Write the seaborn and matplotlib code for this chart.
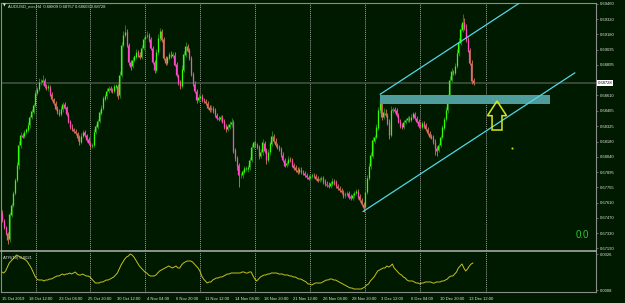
import numpy as np
import pandas as pd
import matplotlib
matplotlib.use("Agg")
import matplotlib.pyplot as plt
import matplotlib.transforms as mtransforms
from matplotlib.patches import Rectangle, Polygon
import seaborn as sns

# ---------------- data ----------------
symbol_title = "AUDUSD_ecn,H4  0.68809 0.68757 0.68603 0.68728"
atr_title = "ATR(10) 0.0021"
current_price = 0.68728
current_price_label = "0.68728"
first_open = 0.6752

closes = [
    0.6745, 0.6739, 0.6733, 0.6727, 0.6750, 0.6759, 0.6770, 0.6782, 0.6796, 0.6815,
    0.6824, 0.6823, 0.6827, 0.6829, 0.6833, 0.6841, 0.6846, 0.6852, 0.6863, 0.6867,
    0.6873, 0.6873, 0.6875, 0.6870, 0.6868, 0.6869, 0.6862, 0.6858, 0.6854, 0.6849,
    0.6846, 0.6844, 0.6848, 0.6853, 0.6850, 0.6844, 0.6837, 0.6832, 0.6830, 0.6828,
    0.6826, 0.6822, 0.6818, 0.6823, 0.6827, 0.6824, 0.6820, 0.6817, 0.6814, 0.6815,
    0.6827, 0.6832, 0.6837, 0.6845, 0.6849, 0.6858, 0.6860, 0.6865, 0.6868, 0.6866,
    0.6865, 0.6869, 0.6870, 0.6861, 0.6880, 0.6908, 0.6917, 0.6920, 0.6908, 0.6892,
    0.6888, 0.6894, 0.6897, 0.6901, 0.6899, 0.6897, 0.6905, 0.6913, 0.6916, 0.6917,
    0.6913, 0.6905, 0.6892, 0.6885, 0.6901, 0.6914, 0.6921, 0.6913, 0.6896, 0.6891,
    0.6896, 0.6899, 0.6898, 0.6899, 0.6890, 0.6880, 0.6873, 0.6870, 0.6885, 0.6899,
    0.6907, 0.6903, 0.6896, 0.6881, 0.6872, 0.6865, 0.6857, 0.6859, 0.6860, 0.6857,
    0.6856, 0.6854, 0.6850, 0.6848, 0.6849, 0.6847, 0.6843, 0.6840, 0.6839, 0.6841,
    0.6837, 0.6832, 0.6830, 0.6832, 0.6834, 0.6836, 0.6810, 0.6803, 0.6796, 0.6787,
    0.6787, 0.6790, 0.6793, 0.6793, 0.6794, 0.6801, 0.6813, 0.6817, 0.6815, 0.6813,
    0.6805, 0.6808, 0.6817, 0.6810, 0.6801, 0.6808, 0.6816, 0.6823, 0.6819, 0.6815,
    0.6813, 0.6811, 0.6806, 0.6801, 0.6796, 0.6798, 0.6802, 0.6801, 0.6796, 0.6794,
    0.6792, 0.6790, 0.6792, 0.6790, 0.6789, 0.6787, 0.6785, 0.6784, 0.6786, 0.6787,
    0.6786, 0.6784, 0.6782, 0.6783, 0.6784, 0.6781, 0.6779, 0.6778, 0.6777, 0.6779,
    0.6781, 0.6780, 0.6777, 0.6775, 0.6773, 0.6771, 0.6768, 0.6769, 0.6770, 0.6767,
    0.6766, 0.6768, 0.6770, 0.6772, 0.6767, 0.6764, 0.6760, 0.6757, 0.6771, 0.6784,
    0.6795, 0.6805, 0.6819, 0.6822, 0.6831, 0.6847, 0.6857, 0.6841, 0.6845, 0.6843,
    0.6836, 0.6824, 0.6847, 0.6848, 0.6847, 0.6843, 0.6837, 0.6833, 0.6832, 0.6836,
    0.6838, 0.6840, 0.6838, 0.6841, 0.6844, 0.6840, 0.6837, 0.6833, 0.6832, 0.6835,
    0.6833, 0.6830, 0.6826, 0.6823, 0.6822, 0.6818, 0.6812, 0.6810, 0.6815, 0.6822,
    0.6831, 0.6839, 0.6847, 0.6859, 0.6875, 0.6883, 0.6882, 0.6888, 0.6900, 0.6910,
    0.6922, 0.6929, 0.6924, 0.6913, 0.6903, 0.6891, 0.6875, 0.68728,
]

# wick lengths beyond the body, in pips (0.0001)
upper_wick_pips = [
    2, 1, 1, 1, 3, 2, 2, 2, 3, 4,  3, 2, 2, 2, 3, 2, 2, 2, 3, 2,
    4, 3, 5, 2, 2, 3, 2, 2, 1, 2,  2, 2, 3, 2, 2, 1, 2, 1, 2, 1,
    2, 1, 2, 3, 2, 2, 1, 2, 2, 2,  3, 2, 2, 2, 3, 2, 2, 3, 2, 2,
    2, 3, 2, 2, 4, 3, 4, 6, 3, 2,  2, 3, 2, 3, 2, 2, 3, 2, 3, 4,
    2, 2, 2, 2, 3, 4, 3, 2, 2, 2,  2, 2, 3, 2, 2, 2, 1, 2, 4, 3,
    4, 2, 2, 2, 2, 2, 2, 3, 2, 2,  2, 2, 2, 2, 3, 2, 2, 2, 2, 2,
    2, 2, 2, 2, 3, 4, 2, 2, 2, 2,  2, 2, 2, 2, 2, 3, 3, 2, 2, 2,
    2, 3, 3, 2, 2, 3, 3, 5, 2, 2,  2, 2, 2, 2, 2, 2, 3, 2, 2, 2,
    2, 2, 2, 2, 2, 2, 2, 2, 2, 2,  2, 2, 2, 2, 2, 2, 2, 2, 2, 2,
    3, 2, 2, 2, 2, 2, 2, 2, 2, 2,  2, 2, 2, 2, 2, 2, 2, 2, 3, 3,
    3, 3, 3, 2, 3, 3, 6, 2, 4, 3,  2, 3, 4, 2, 2, 2, 2, 2, 2, 2,
    2, 2, 2, 3, 2, 2, 2, 2, 3, 2,  2, 2, 2, 2, 2, 2, 2, 2, 2, 2,
    2, 2, 3, 3, 4, 3, 2, 3, 4, 4,  5, 8, 4, 3, 2, 2, 3, 2,
]
lower_wick_pips = [
    2, 2, 2, 4, 2, 2, 2, 2, 2, 3,  3, 2, 2, 2, 2, 2, 2, 2, 2, 2,
    2, 2, 2, 2, 2, 3, 2, 2, 2, 2,  2, 2, 2, 2, 2, 2, 2, 2, 2, 2,
    2, 3, 3, 2, 2, 2, 2, 2, 3, 2,  2, 2, 2, 2, 2, 2, 2, 2, 2, 2,
    2, 2, 2, 3, 2, 2, 2, 2, 2, 3,  3, 2, 2, 2, 2, 2, 2, 2, 2, 2,
    2, 2, 2, 3, 2, 2, 2, 2, 2, 2,  2, 2, 2, 2, 2, 2, 2, 3, 2, 2,
    2, 2, 2, 2, 2, 2, 3, 2, 2, 2,  2, 2, 2, 2, 2, 2, 2, 2, 2, 2,
    2, 2, 3, 2, 2, 2, 3, 3, 4, 11, 3, 3, 2, 2, 3, 2, 2, 2, 2, 2,
    3, 2, 2, 3, 4, 2, 2, 2, 2, 2,  2, 2, 2, 2, 2, 2, 2, 2, 2, 2,
    2, 2, 2, 2, 2, 2, 2, 2, 2, 2,  2, 2, 2, 2, 2, 2, 2, 2, 2, 2,
    2, 2, 2, 2, 2, 2, 2, 2, 2, 2,  2, 2, 2, 2, 2, 2, 2, 4, 2, 2,
    2, 2, 2, 2, 2, 2, 2, 3, 2, 2,  3, 4, 2, 2, 2, 2, 2, 2, 2, 2,
    2, 2, 2, 2, 2, 2, 2, 2, 2, 2,  2, 2, 2, 2, 2, 2, 6, 5, 2, 2,
    2, 2, 2, 2, 2, 2, 2, 2, 2, 2,  2, 2, 2, 2, 2, 2, 3, 2,
]

atr_values = [
    0.00170, 0.00165, 0.00175, 0.00195, 0.00215, 0.00225, 0.00235, 0.00245, 0.00255, 0.00250,
    0.00245, 0.00240, 0.00235, 0.00230, 0.00220, 0.00205, 0.00190, 0.00170, 0.00150, 0.00135,
    0.00130, 0.00130, 0.00130, 0.00125, 0.00130, 0.00130, 0.00135, 0.00135, 0.00140, 0.00145,
    0.00150, 0.00150, 0.00155, 0.00160, 0.00155, 0.00160, 0.00160, 0.00165, 0.00160, 0.00165,
    0.00170, 0.00160, 0.00155, 0.00155, 0.00160, 0.00155, 0.00150, 0.00150, 0.00145, 0.00135,
    0.00125, 0.00115, 0.00115, 0.00115, 0.00120, 0.00120, 0.00125, 0.00130, 0.00130, 0.00135,
    0.00140, 0.00145, 0.00155, 0.00165, 0.00185, 0.00205, 0.00220, 0.00235, 0.00245, 0.00250,
    0.00260, 0.00255, 0.00245, 0.00230, 0.00215, 0.00200, 0.00190, 0.00180, 0.00170, 0.00165,
    0.00155, 0.00150, 0.00150, 0.00150, 0.00155, 0.00165, 0.00175, 0.00180, 0.00185, 0.00190,
    0.00195, 0.00200, 0.00195, 0.00190, 0.00195, 0.00200, 0.00190, 0.00190, 0.00205, 0.00215,
    0.00220, 0.00225, 0.00225, 0.00225, 0.00220, 0.00210, 0.00200, 0.00190, 0.00175, 0.00150,
    0.00135, 0.00125, 0.00115, 0.00120, 0.00120, 0.00130, 0.00135, 0.00140, 0.00140, 0.00145,
    0.00145, 0.00150, 0.00155, 0.00160, 0.00160, 0.00165, 0.00165, 0.00165, 0.00165, 0.00165,
    0.00165, 0.00170, 0.00170, 0.00165, 0.00165, 0.00170, 0.00170, 0.00150, 0.00135, 0.00125,
    0.00135, 0.00145, 0.00150, 0.00155, 0.00155, 0.00160, 0.00160, 0.00165, 0.00165, 0.00165,
    0.00165, 0.00160, 0.00160, 0.00160, 0.00155, 0.00155, 0.00155, 0.00150, 0.00150, 0.00145,
    0.00145, 0.00140, 0.00135, 0.00135, 0.00130, 0.00125, 0.00120, 0.00110, 0.00110, 0.00105,
    0.00110, 0.00115, 0.00115, 0.00115, 0.00115, 0.00120, 0.00125, 0.00130, 0.00130, 0.00135,
    0.00135, 0.00130, 0.00130, 0.00125, 0.00120, 0.00115, 0.00110, 0.00105, 0.00100, 0.00095,
    0.00090, 0.00090, 0.00085, 0.00085, 0.00085, 0.00085, 0.00085, 0.00090, 0.00095, 0.00105,
    0.00110, 0.00125, 0.00135, 0.00145, 0.00160, 0.00175, 0.00180, 0.00185, 0.00190, 0.00190,
    0.00200, 0.00195, 0.00200, 0.00210, 0.00190, 0.00180, 0.00170, 0.00160, 0.00155, 0.00145,
    0.00140, 0.00130, 0.00125, 0.00125, 0.00125, 0.00120, 0.00115, 0.00115, 0.00110, 0.00115,
    0.00115, 0.00120, 0.00120, 0.00120, 0.00120, 0.00115, 0.00115, 0.00120, 0.00120, 0.00120,
    0.00125, 0.00125, 0.00130, 0.00135, 0.00145, 0.00150, 0.00150, 0.00160, 0.00170, 0.00190,
    0.00200, 0.00210, 0.00190, 0.00175, 0.00185, 0.00200, 0.00210, 0.00215,
]

time_labels = ["15 Oct 2019", "18 Oct 12:00", "23 Oct 04:00", "25 Oct 20:00",
               "30 Oct 12:00", "4 Nov 04:00", "6 Nov 20:00", "11 Nov 12:00",
               "14 Nov 04:00", "18 Nov 20:00", "21 Nov 12:00", "26 Nov 04:00",
               "28 Nov 20:00", "3 Dec 12:00", "6 Dec 04:00", "10 Dec 20:00",
               "13 Dec 12:00"]
time_label_bars = [0, 15, 31, 47, 63, 79, 95, 111, 127, 143, 159, 175, 191, 207,
                   223, 239, 255]
separator_bars = [18.5, 48, 78, 108, 138, 168, 198, 228, 264]

price_ticks = [0.69460, 0.69320, 0.69180, 0.69035, 0.68895, 0.68610, 0.68465,
               0.68325, 0.68180, 0.68040, 0.67895, 0.67755, 0.67610, 0.67470,
               0.67330, 0.67190]
atr_ticks = [0.0026, 0.0008]
atr_tick_labels = ["0.0026", "0.0008"]

# drawn objects (bar index, price)
channel_lower = [(197.0, 0.6753), (312.6, 0.6882)]
channel_upper_start = (206.3, 0.6862)
zone_bars = (206.3, 299.0)
zone_prices = (0.6853, 0.6861)
arrow_center_bar = 270.1
arrow_head_halfwidth = 5.2
arrow_shaft_halfwidth = 2.7
arrow_prices = (0.68558, 0.68421, 0.68288)   # tip, head base, tail
dot_point = (278.3, 0.6812)
level_text = "0.0"

# ---------------- style ----------------
BG = "#001a00"
sns.set_theme(style="dark", rc={"figure.facecolor": BG, "axes.facecolor": BG})
plt.rcParams["font.family"] = ["Liberation Sans", "DejaVu Sans"]
TXT = "#e6e6e6"
FS = 3.0

fig = plt.figure(figsize=(6.25, 3.03), dpi=100)
fig.patch.set_facecolor(BG)
W, H = 625.0, 303.0
ax = fig.add_axes([1 / W, (H - 251) / H, 595 / W, 248 / H])
ax2 = fig.add_axes([1 / W, (H - 292) / H, 595 / W, 40 / H])

o = np.array([first_open] + closes[:-1])
c = np.array(closes)
hi = np.maximum(o, c) + np.array(upper_wick_pips) * 0.0001
lo = np.minimum(o, c) - np.array(lower_wick_pips) * 0.0001
x = np.arange(len(c))
bull = c >= o

xlim = (-0.5, 324.1)
for a in (ax, ax2):
    a.set_facecolor(BG)
    a.set_xlim(*xlim)
    for sb in separator_bars:
        a.axvline(sb, color="#cfcfcf", lw=0.6, ls=(0, (1.0, 1.3)), zorder=1)
    for s in a.spines.values():
        s.set_color("#8c8c8c")
        s.set_linewidth(0.8)

ax.set_ylim(0.67163, 0.69469)

# current price line
ax.axhline(current_price, color="#3c4a3c", lw=1.3, zorder=1.5)

# candles
ax.vlines(x[bull] + 0.3, lo[bull], hi[bull], color="#1e7a18", lw=0.75, zorder=2)
ax.vlines(x[~bull] + 0.3, lo[~bull], hi[~bull], color="#b06a3c", lw=0.75, zorder=2)
ax.vlines(x[bull], o[bull], c[bull] + 0.00003, color="#33ff00", lw=0.9, zorder=2.5)
ax.vlines(x[~bull], c[~bull] - 0.00003, o[~bull], color="#ff48cc", lw=0.9, zorder=2.5)

# channel
slope = (channel_lower[1][1] - channel_lower[0][1]) / (channel_lower[1][0] - channel_lower[0][0])
upper_end = (channel_lower[1][0], channel_upper_start[1] + slope * (channel_lower[1][0] - channel_upper_start[0]))
chan = pd.DataFrame({
    "bar": [channel_lower[0][0], channel_lower[1][0], channel_upper_start[0], upper_end[0]],
    "price": [channel_lower[0][1], channel_lower[1][1], channel_upper_start[1], upper_end[1]],
    "line": ["lower", "lower", "upper", "upper"],
})
sns.lineplot(data=chan, x="bar", y="price", units="line", estimator=None,
             color="#52d6ea", lw=0.9, ax=ax, zorder=4, legend=False)

# zone rectangle
ax.add_patch(Rectangle((zone_bars[0], zone_prices[0]), zone_bars[1] - zone_bars[0],
                       zone_prices[1] - zone_prices[0], facecolor="#4e9c9c",
                       edgecolor="none", zorder=3.5))

# arrow
tip, base, tail = arrow_prices
xc = arrow_center_bar
arrow_pts = [(xc, tip), (xc + arrow_head_halfwidth, base), (xc + arrow_shaft_halfwidth, base),
             (xc + arrow_shaft_halfwidth, tail), (xc - arrow_shaft_halfwidth, tail),
             (xc - arrow_shaft_halfwidth, base), (xc - arrow_head_halfwidth, base)]
ax.add_patch(Polygon(arrow_pts, closed=True, fill=False, edgecolor="#d8e61e", lw=1.1, zorder=5))
ax.plot([dot_point[0]], [dot_point[1]], marker="s", ms=1.3, color="#d8e61e", mew=0, zorder=5)

ax.text(0.965, 0.065, level_text, transform=ax.transAxes, color="#2fc42f",
        fontsize=7, ha="left", va="center")
ax.text(0.004, 0.988, "\u25bc", transform=ax.transAxes, color=TXT, fontsize=2.6,
        ha="left", va="center", family="DejaVu Sans")
ax.text(0.011, 0.988, symbol_title, transform=ax.transAxes, color=TXT, fontsize=FS,
        ha="left", va="center")

# price axis
ax.set_xticks([])
ax.yaxis.tick_right()
ax.set_yticks(price_ticks)
ax.set_yticklabels([f"{p:.5f}" for p in price_ticks])
ax.tick_params(axis="y", colors="#8c8c8c", labelcolor=TXT, labelsize=FS, length=1.5,
               width=0.5, pad=1.5, direction="out")
trans = mtransforms.blended_transform_factory(ax.transAxes, ax.transData)
ax.text(1.003, current_price, current_price_label, transform=trans, color="black",
        fontsize=FS, ha="left", va="center",
        bbox=dict(boxstyle="square,pad=0.25", facecolor="white", edgecolor="none"))
ax.spines["bottom"].set_color("#a6a6a6")
ax.spines["bottom"].set_linewidth(1.2)
ax.set_xlabel("")
ax.set_ylabel("")

# ATR panel
atr_df = pd.DataFrame({"bar": x, "atr": atr_values})
sns.lineplot(data=atr_df, x="bar", y="atr", color="#c8c020", lw=0.7, ax=ax2, zorder=3)
ax2.set_ylim(0.0007, 0.0027)
ax2.yaxis.tick_right()
ax2.set_yticks(atr_ticks)
ax2.set_yticklabels(atr_tick_labels)
ax2.set_xticks(time_label_bars)
ax2.set_xticklabels(time_labels, ha="left")
ax2.tick_params(axis="y", colors="#8c8c8c", labelcolor=TXT, labelsize=FS, length=1.5,
                width=0.5, pad=1.5, direction="out")
ax2.tick_params(axis="x", colors="#8c8c8c", labelcolor=TXT, labelsize=FS, length=2,
                width=0.5, pad=1.5, direction="out")
ax2.spines["top"].set_visible(False)
ax2.text(0.004, 0.85, atr_title, transform=ax2.transAxes, color=TXT, fontsize=FS,
         ha="left", va="center")
ax2.set_xlabel("")
ax2.set_ylabel("")

fig.savefig("out.png", dpi=100, facecolor=BG)
